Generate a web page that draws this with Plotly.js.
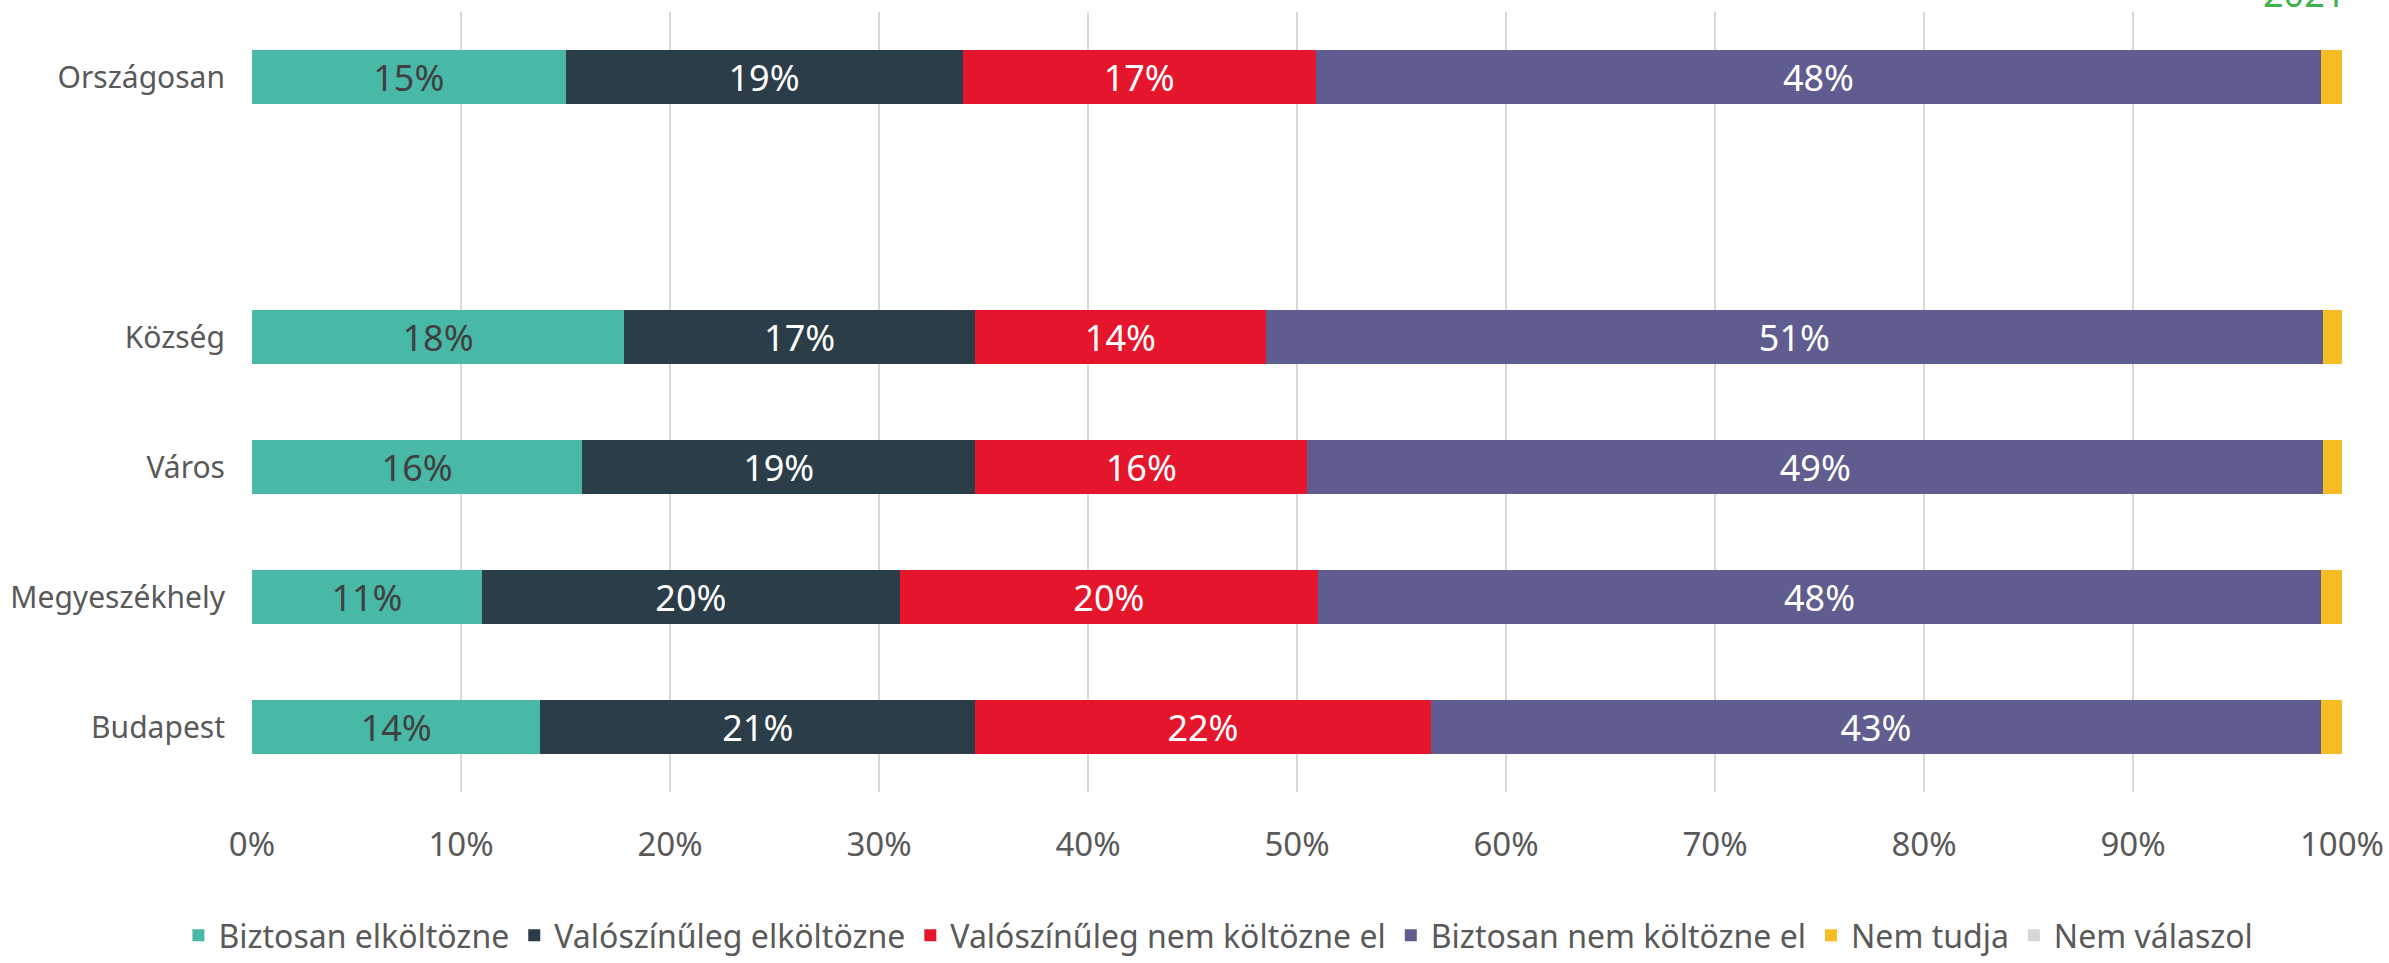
<!DOCTYPE html>
<html>
<head>
<meta charset="utf-8">
<script src="https://cdn.plot.ly/plotly-3.0.1.min.js"></script>
<style>
  html, body { margin: 0; padding: 0; background: #fff; }
  #chart { width: 2389px; height: 963px; }
</style>
</head>
<body>
<div id="chart"></div>
<script>
// categories, top to bottom (the empty one is the gap under "Országosan")
const categories = ['Országosan', ' ', 'Község', 'Város', 'Megyeszékhely', 'Budapest'];
const rows = ['Országosan', 'Község', 'Város', 'Megyeszékhely', 'Budapest'];

const seriesNames = ['Biztosan elköltözne', 'Valószínűleg elköltözne', 'Valószínűleg nem költözne el',
                     'Biztosan nem költözne el', 'Nem tudja', 'Nem válaszol'];

// shares in percent, same order as rows
const biztosanEl = [15.0, 17.8, 15.8, 11.0, 13.8];
const valoszinuEl = [19.0, 16.8, 18.8, 20.0, 20.8];
const valoszinuNem = [16.9, 13.9, 15.9, 20.0, 21.8];
const biztosanNem = [48.1, 50.6, 48.6, 48.0, 42.6];
const nemTudja = [1.0, 1.0, 1.0, 1.0, 1.0];
const nemValaszol = [0, 0, 0, 0, 0];

// x axis ticks
const tickVals = [0, 10, 20, 30, 40, 50, 60, 70, 80, 90, 100];
const tickText = ['0%', '10%', '20%', '30%', '40%', '50%', '60%', '70%', '80%', '90%', '100%'];

const colors = ['#48b8a7', '#2a3d48', '#e5162c', '#5f5c8f', '#f5bd23', '#d6d6d6'];
const labelColors = ['#404040', '#ffffff', '#ffffff', '#ffffff', '#ffffff', '#ffffff'];
const values = [biztosanEl, valoszinuEl, valoszinuNem, biztosanNem, nemTudja, nemValaszol];

const narrow = '"Liberation Sans Narrow", "Noto Sans", sans-serif';

var data = [];
for (var i = 0; i < seriesNames.length; i++) {
    var showText = i < 4;
    data.push({
        type: 'bar',
        orientation: 'h',
        name: seriesNames[i],
        y: rows,
        x: values[i],
        marker: { color: colors[i], line: { width: 0 } },
        texttemplate: showText ? '%{x:.0f}%' : '',
        textposition: showText ? 'inside' : 'none',
        insidetextanchor: 'middle',
        textangle: 0,
        constraintext: 'none',
        textfont: { family: narrow, size: 36, color: labelColors[i] },
        hoverinfo: 'name+x'
    });
}

var layout = {
    width: 2389,
    height: 963,
    barmode: 'stack',
    bargap: 0.58,
    paper_bgcolor: '#ffffff',
    plot_bgcolor: '#ffffff',
    margin: { l: 252, r: 47, t: 12, b: 171 },
    font: { family: narrow, color: '#595959' },
    xaxis: {
        range: [0, 100],
        tickmode: 'array',
        tickvals: tickVals,
        ticktext: tickText,
        showgrid: true,
        gridcolor: '#d9d9d9',
        gridwidth: 2,
        zeroline: false,
        showline: false,
        ticks: '',
        ticklabelstandoff: 30,
        ticklabeloverflow: 'allow',
        tickfont: { family: narrow, size: 33, color: '#595959' },
        fixedrange: true
    },
    yaxis: {
        type: 'category',
        categoryorder: 'array',
        categoryarray: categories,
        range: [5.5, -0.5],
        showgrid: false,
        zeroline: false,
        showline: false,
        ticks: '',
        ticklabelstandoff: 26,
        tickfont: { family: '"Noto Sans", "Open Sans", sans-serif', size: 30, color: '#595959' },
        fixedrange: true
    },
    showlegend: true,
    legend: {
        orientation: 'h',
        xref: 'container',
        yref: 'container',
        x: 0.51,
        xanchor: 'center',
        y: 0,
        yanchor: 'bottom',
        font: { family: narrow, size: 32, color: '#595959' },
        itemsizing: 'constant',
        traceorder: 'normal'
    },
    annotations: [{
        text: '2021',
        xref: 'paper',
        yref: 'paper',
        x: 0.982,
        y: 1.024,
        xanchor: 'center',
        yanchor: 'middle',
        showarrow: false,
        font: { family: '"Noto Sans", sans-serif', size: 36, color: '#3cb44b' }
    }]
};

Plotly.newPlot('chart', data, layout, { displayModeBar: false, staticPlot: true });
</script>
</body>
</html>
